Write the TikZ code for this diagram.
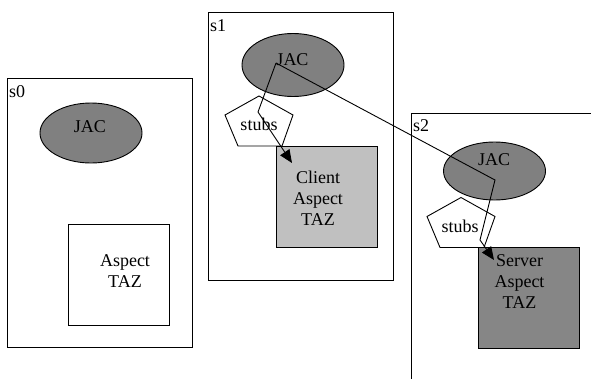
\documentclass[tikz,border=0pt]{standalone}
\usepackage{fontspec}
\setmainfont{Liberation Serif}
\usetikzlibrary{shapes.geometric,arrows.meta}
\definecolor{jacgray}{HTML}{808080}
\definecolor{clientgray}{HTML}{C0C0C0}
\definecolor{servergray}{HTML}{868686}
\begin{document}
\begin{tikzpicture}[x=1pt,y=-1pt,
  site/.style={draw,line width=0.9pt},
  jac/.style={ellipse,draw,line width=0.9pt,fill=jacgray,inner sep=0pt,minimum width=102pt},
  aspectbox/.style={draw,line width=0.9pt,inner sep=0pt,minimum width=101pt,minimum height=101pt},
  txt/.style={font=\fontsize{18}{21}\selectfont,inner sep=0pt,align=center},
  conn/.style={line width=0.9pt,-{Triangle[length=13pt,width=11pt]}},
  stubpent/.pic={\draw[line width=0.9pt,fill=white]
      (0,-26) -- (34,-7) -- (23,24) -- (-21,24) -- (-34,-7) -- cycle;}
]
\useasboundingbox (0,0) rectangle (591,378);
\clip (0,0) rectangle (591,378);

% sites
\draw[site] (7,78) rectangle (192,347);
\draw[site] (208,12) rectangle (393,280);
\draw[site] (411,113) rectangle (620,400);
\node[txt,anchor=base west] (s0lbl) at (9,97) {s0};
\node[txt,anchor=base west] (s1lbl) at (210,31) {s1};
\node[txt,anchor=base west] (s2lbl) at (413,131) {s2};

% JAC containers
\node[jac,minimum height=60pt] (jac0) at (91,133) {};
\node[jac,minimum height=63pt] (jac1) at (293,65) {};
\node[jac,minimum height=58pt] (jac2) at (494.5,171) {};
\node[txt,anchor=base] (jac0t) at (90,132) {JAC};
\node[txt,anchor=base] (jac1t) at (292.5,65) {JAC};
\node[txt,anchor=base] (jac2t) at (494,165) {JAC};

% stubs
\pic at (259,122) {stubpent};
\pic at (461,223.5) {stubpent};
\node[txt,anchor=base] (stubs1) at (259,130) {stubs};
\node[txt,anchor=base] (stubs2) at (460,232) {stubs};

% aspects
\node[aspectbox] (asp0) at (118.5,275) {};
\node[aspectbox,fill=clientgray] (asp1) at (326.5,197) {};
\node[aspectbox,fill=servergray] (asp2) at (528.5,297.5) {};
\node[txt] (asp0t) at (125,271) {Aspect\\TAZ};
\node[txt] (asp1t) at (318,198) {Client\\Aspect\\TAZ};
\node[txt] (asp2t) at (519.5,281.5) {Server\\Aspect\\TAZ};

% connectors
\coordinate (hub) at (276,63);
\coordinate (bend1) at (258,112);
\coordinate (tip1) at (292,163);
\coordinate (bend2a) at (495,180);
\coordinate (bend2b) at (480,240);
\coordinate (tip2) at (494,260);
\draw[conn] (hub) -- (bend1) -- (tip1);
\draw[conn] (hub) -- (bend2a) -- (bend2b) -- (tip2);
\end{tikzpicture}
\end{document}
